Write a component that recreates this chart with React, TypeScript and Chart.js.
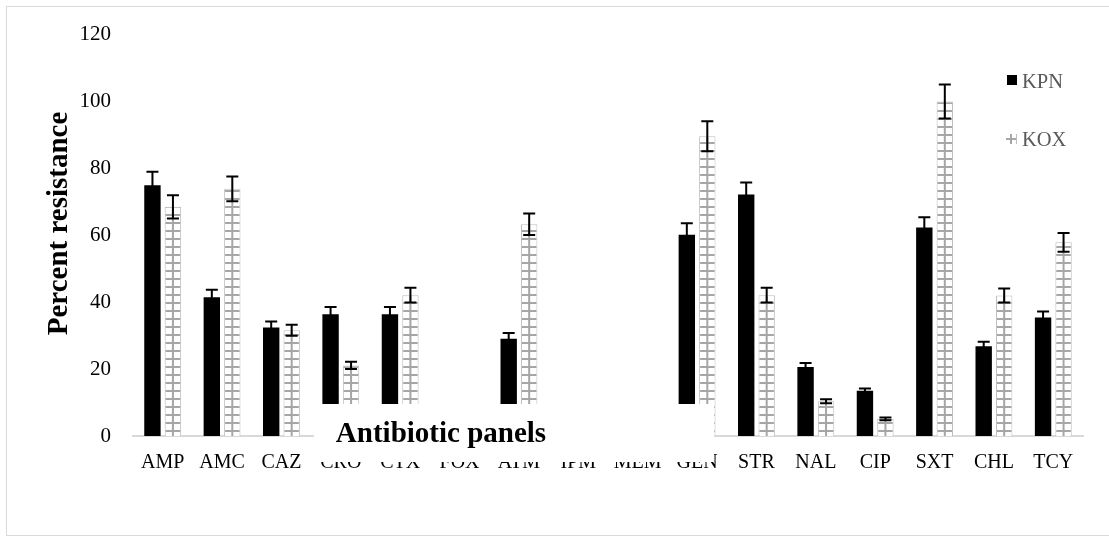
import { useEffect, useRef } from "react";
import { Chart, registerables } from "chart.js";

Chart.register(...registerables);

const categories = ["AMP", "AMC", "CAZ", "CRO", "CTX", "FOX", "ATM", "IPM", "MEM", "GEN", "STR", "NAL", "CIP", "SXT", "CHL", "TCY"];
const kpnValues = [75, 41.5, 32.4, 36.4, 36.4, 0, 29.1, 0, 0, 60.2, 72.2, 20.6, 13.5, 62.3, 26.8, 35.4];
const kpnErrors = [4, 2.2, 1.8, 2.2, 2.2, 0, 1.7, 0, 0, 3.4, 3.6, 1.2, 0.7, 3.1, 1.4, 1.8];
const koxValues = [68.5, 73.9, 31.6, 21.1, 42.1, 0, 63.3, 0, 0, 89.6, 42.1, 10.4, 5.1, 100, 42, 57.9];
const koxErrors = [3.5, 3.7, 1.65, 1.1, 2.2, 0, 3.2, 0, 0, 4.5, 2.2, 0.6, 0.4, 5.1, 2.1, 2.8];
const yTicks = [0, 20, 40, 60, 80, 100, 120];
const seriesNames = ["KPN", "KOX"];
const yTitle = "Percent resistance";
const xTitle = "Antibiotic panels";

const FONT = "'Liberation Serif', 'Times New Roman', serif";
const PATTERN_GRAY = "#a6a6a6";
const BORDER_GRAY = "#bfbfbf";

export default function App() {
  const ref = useRef<HTMLCanvasElement | null>(null);

  useEffect(() => {
    document.body.style.margin = "0";
    const canvas = ref.current!;
    const ctx0 = canvas.getContext("2d")!;
    const tile = document.createElement("canvas");
    tile.width = 8;
    tile.height = 8;
    const tctx = tile.getContext("2d")!;
    tctx.fillStyle = "#ffffff";
    tctx.fillRect(0, 0, 8, 8);
    tctx.fillStyle = PATTERN_GRAY;
    tctx.fillRect(0, 6, 8, 2);
    const pattern = ctx0.createPattern(tile, "repeat")!;

    const errorSets = [kpnErrors, koxErrors];

    const decorPlugin = {
      id: "decor",
      beforeDraw(chart: any) {
        const ctx = chart.ctx;
        ctx.save();
        ctx.fillStyle = "#ffffff";
        ctx.fillRect(0, 0, chart.width, chart.height);
        ctx.strokeStyle = "#d9d9d9";
        ctx.lineWidth = 1;
        ctx.strokeRect(6.5, 6.5, chart.width + 10, 529);
        ctx.restore();
      },
      afterDatasetsDraw(chart: any) {
        const ctx = chart.ctx;
        const y = chart.scales.y;
        // centre line of hatched bars
        const koxMeta = chart.getDatasetMeta(1);
        ctx.save();
        ctx.fillStyle = PATTERN_GRAY;
        koxMeta.data.forEach((bar: any, i: number) => {
          if (!koxValues[i]) return;
          const top = bar.y;
          const base = bar.base;
          ctx.fillRect(bar.x - 1, top + 1, 2, base - top - 1);
        });
        ctx.restore();
        // error bars
        chart.data.datasets.forEach((ds: any, di: number) => {
          const meta = chart.getDatasetMeta(di);
          const errs = errorSets[di];
          meta.data.forEach((bar: any, i: number) => {
            const v = ds.data[i];
            const e = errs[i];
            if (!e) return;
            const yt = y.getPixelForValue(v + e);
            const yb = y.getPixelForValue(v - e);
            ctx.save();
            ctx.strokeStyle = "#000";
            ctx.lineWidth = 2;
            ctx.beginPath();
            ctx.moveTo(bar.x, yt);
            ctx.lineTo(bar.x, yb);
            ctx.moveTo(bar.x - 6, yt);
            ctx.lineTo(bar.x + 6, yt);
            ctx.moveTo(bar.x - 6, yb);
            ctx.lineTo(bar.x + 6, yb);
            ctx.stroke();
            ctx.restore();
          });
        });
      },
      afterDraw(chart: any) {
        const ctx = chart.ctx;
        ctx.save();
        // axis title box overlapping the plot
        ctx.fillStyle = "#ffffff";
        ctx.fillRect(314, 404, 400, 58);
        ctx.fillStyle = "#000";
        ctx.font = `bold 29px ${FONT}`;
        ctx.textAlign = "center";
        ctx.textBaseline = "alphabetic";
        ctx.fillText(xTitle, 441, 441.5);
        // y title
        ctx.save();
        ctx.translate(66.5, 223.5);
        ctx.rotate(-Math.PI / 2);
        ctx.fillText(yTitle, 0, 0);
        ctx.restore();
        // legend
        ctx.font = `20.5px ${FONT}`;
        ctx.textAlign = "left";
        ctx.textBaseline = "alphabetic";
        ctx.fillStyle = "#000";
        ctx.fillRect(1007, 75, 10, 10);
        ctx.fillStyle = "#595959";
        ctx.fillText(chart.data.datasets[0].label, 1022, 88.3);
        ctx.fillStyle = PATTERN_GRAY;
        ctx.fillRect(1006, 138, 11, 2);
        ctx.fillRect(1010, 134, 2, 10);
        ctx.fillStyle = BORDER_GRAY;
        ctx.fillRect(1016, 134, 1, 10);
        ctx.fillStyle = "#595959";
        ctx.fillText(chart.data.datasets[1].label, 1022, 146);
        ctx.restore();
      },
    };

    const chart = new Chart(canvas, {
      type: "bar",
      data: {
        labels: categories,
        datasets: [
          {
            label: seriesNames[0],
            data: kpnValues,
            backgroundColor: "#000000",
            borderWidth: 0,
            categoryPercentage: 0.69,
            barPercentage: 0.8,
          },
          {
            label: seriesNames[1],
            data: koxValues,
            backgroundColor: pattern,
            borderColor: BORDER_GRAY,
            borderWidth: { top: 1, left: 1, right: 1, bottom: 0 },
            categoryPercentage: 0.69,
            barPercentage: 0.8,
          },
        ],
      },
      options: {
        responsive: false,
        animation: false,
        devicePixelRatio: 1,
        layout: { padding: { left: 0, top: 33.5, right: 26, bottom: 0 } },
        plugins: {
          legend: { display: false },
          tooltip: { enabled: false },
          title: { display: false },
        },
        scales: {
          x: {
            grid: { display: false, drawTicks: false },
            border: { display: true, color: "#d9d9d9", width: 2 },
            ticks: {
              color: "#000",
              font: { family: FONT, size: 20 },
              padding: 15,
              autoSkip: false,
              maxRotation: 0,
            },
            afterFit: (s: any) => {
              s.height = 101;
            },
          },
          y: {
            min: 0,
            max: 120,
            grid: { display: false, drawTicks: false },
            border: { display: false },
            ticks: {
              color: "#000",
              font: { family: FONT, size: 21 },
              padding: 22,
              stepSize: 20,
            },
            afterBuildTicks: (s: any) => {
              s.ticks = yTicks.map((v) => ({ value: v }));
            },
            afterFit: (s: any) => {
              s.width = 133;
            },
          },
        },
      },
      plugins: [decorPlugin],
    });

    return () => chart.destroy();
  }, []);

  return <canvas ref={ref} width={1109} height={537} style={{ display: "block" }} />;
}
